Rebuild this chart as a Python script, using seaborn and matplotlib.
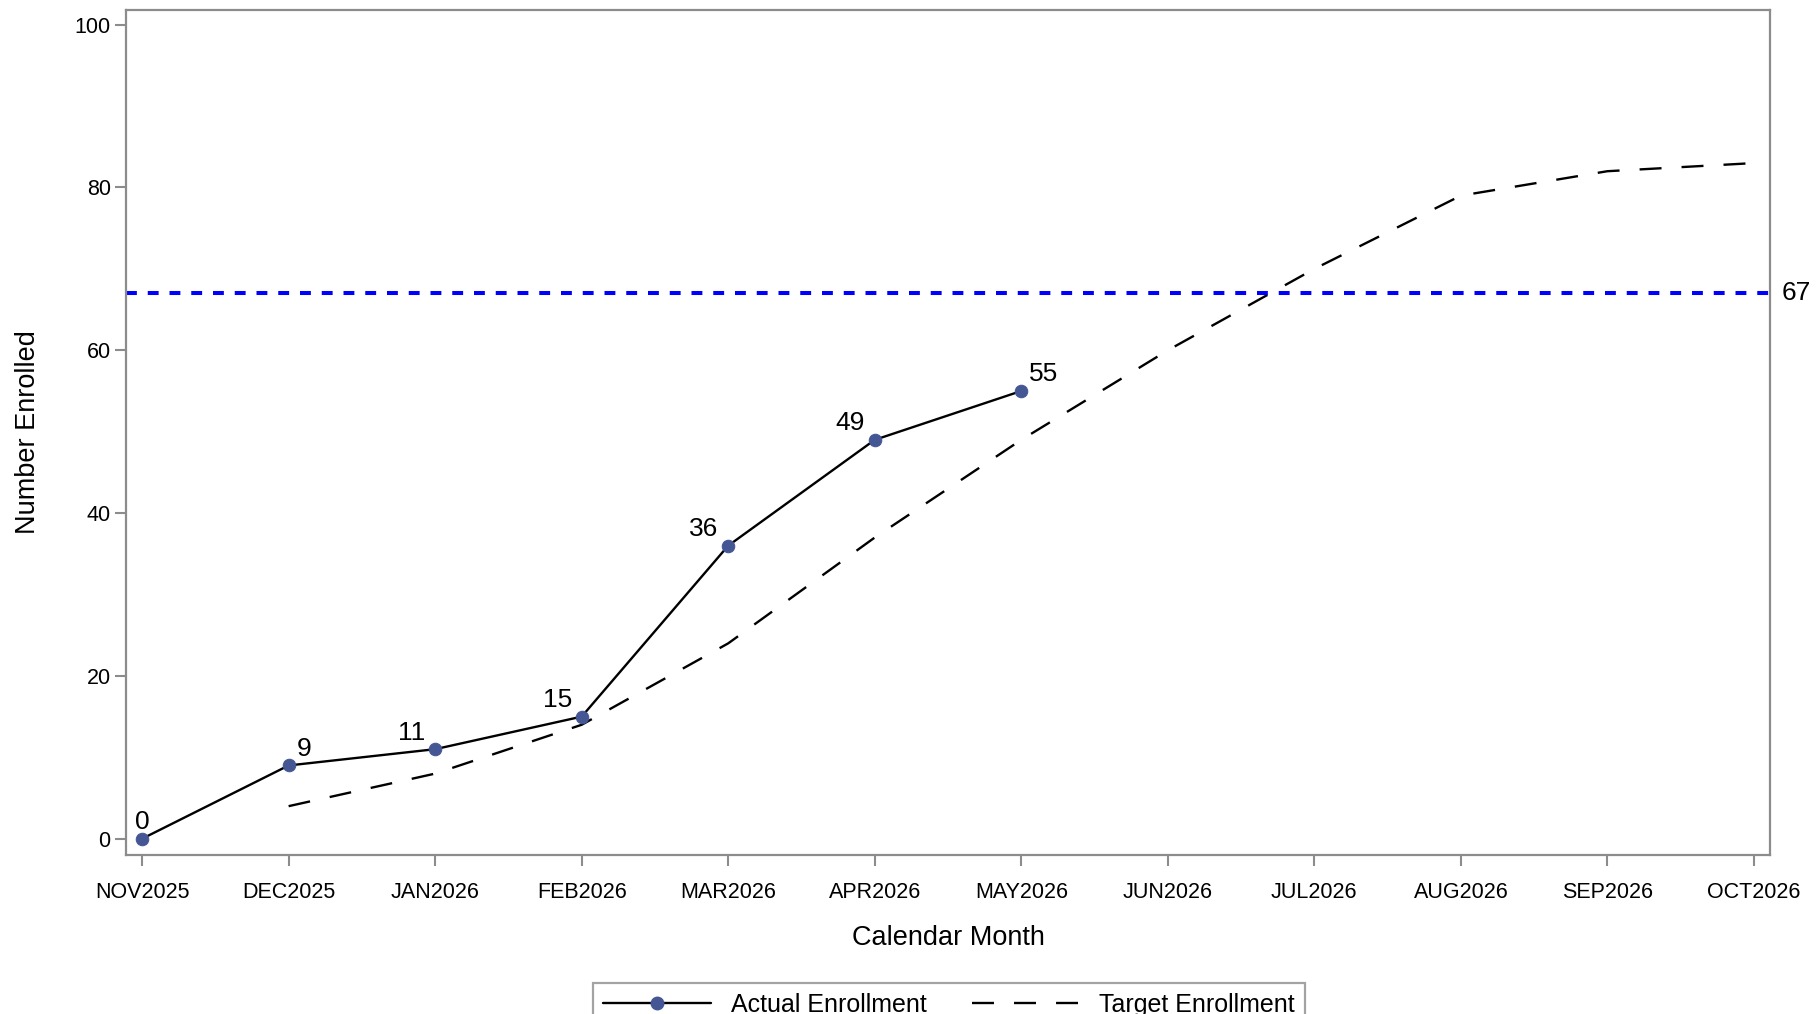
import matplotlib
matplotlib.use("Agg")
import matplotlib.pyplot as plt
from matplotlib.lines import Line2D
import seaborn as sns
import pandas as pd

months = ["NOV2025", "DEC2025", "JAN2026", "FEB2026", "MAR2026", "APR2026",
          "MAY2026", "JUN2026", "JUL2026", "AUG2026", "SEP2026", "OCT2026"]
actual_months = ["NOV2025", "DEC2025", "JAN2026", "FEB2026", "MAR2026", "APR2026", "MAY2026"]
actual_values = [0, 9, 11, 15, 36, 49, 55]
target_months = ["DEC2025", "JAN2026", "FEB2026", "MAR2026", "APR2026", "MAY2026",
                 "JUN2026", "JUL2026", "AUG2026", "SEP2026", "OCT2026"]
target_values = [4, 8, 14, 24, 37, 49, 60, 70, 79, 82, 83]
goal = 67
label_side = ["center", "left", "right", "right", "right", "right", "left"]

actual = pd.DataFrame({"month": actual_months, "n": actual_values})
actual["x"] = actual["month"].map(months.index)
target = pd.DataFrame({"month": target_months, "n": target_values})
target["x"] = target["month"].map(months.index)

sns.set_style("white")
plt.rcParams["font.family"] = ["Liberation Sans", "DejaVu Sans"]
plt.rcParams["text.color"] = "black"
plt.rcParams["axes.labelcolor"] = "black"

frame_col = "#8c8c8c"
dot_col = "#445694"
dash_style = (0, (9.3, 8.5))

fig = plt.figure(figsize=(18.18, 10.14), dpi=100)
ax = fig.add_axes([0.0693, 0.1568, 0.9043, 0.8333])

sns.lineplot(data=target, x="x", y="n", ax=ax, color="black", lw=1.7,
             dashes=False, linestyle=dash_style)
sns.lineplot(data=actual, x="x", y="n", ax=ax, color="black", lw=1.7,
             marker="o", markersize=9, markerfacecolor=dot_col, markeredgecolor=dot_col)

ax.axhline(goal, color="#0000ff", lw=2.9, linestyle=(0, (2.7, 2.7)))
ax.text(1.007, goal, str(goal), transform=ax.get_yaxis_transform(),
        ha="left", va="center", fontsize=19)

for xi, yi, side in zip(actual["x"], actual["n"], label_side):
    dx = {"center": 0, "left": 5.5, "right": -7}[side]
    ax.annotate(str(yi), (xi, yi), xytext=(dx, 12), textcoords="offset points",
                ha=side, va="center", fontsize=19)

ax.set_xlim(-0.11, 11.11)
ax.set_ylim(-2, 101.8)
ax.set_xticks(range(len(months)))
ax.set_xticklabels(months)
ax.set_yticks([0, 20, 40, 60, 80, 100])
ax.tick_params(axis="both", length=8, width=1.5, color=frame_col, labelcolor="black",
               labelsize=15.5, direction="out", bottom=True, left=True)
ax.tick_params(axis="x", pad=11.5)
ax.tick_params(axis="y", pad=3)
ax.set_xlabel("Calendar Month", fontsize=19.5, labelpad=15.5)
ax.set_ylabel("Number Enrolled", fontsize=19.5, labelpad=24)
for sp in ax.spines.values():
    sp.set_color(frame_col)
    sp.set_linewidth(1.6)

handles = [
    Line2D([], [], color="black", lw=1.7, marker="o", markersize=9,
           markerfacecolor=dot_col, markeredgecolor=dot_col),
    Line2D([], [], color="black", lw=1.7, linestyle=dash_style),
]
leg = fig.legend(handles, ["Actual Enrollment", "Target Enrollment"],
                 loc="upper center", bbox_to_anchor=(0.522, 0.0306), ncol=2,
                 fontsize=18, frameon=True, fancybox=False, handlelength=4.3,
                 handletextpad=0.8, columnspacing=1.8, borderpad=0.4,
                 borderaxespad=0, numpoints=1)
leg.get_frame().set_edgecolor(frame_col)
leg.get_frame().set_linewidth(1.6)

fig.savefig("out.png", dpi=100)
